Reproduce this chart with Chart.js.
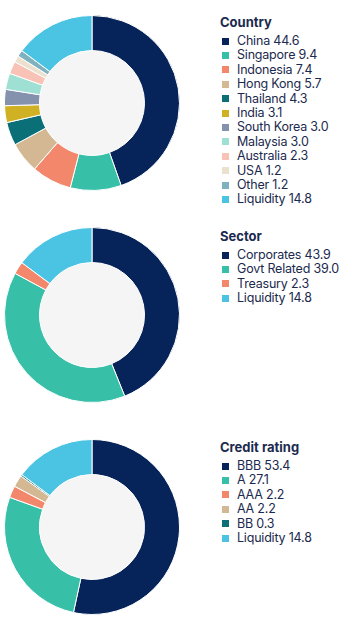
<!DOCTYPE html>
<html>
<head>
<meta charset="utf-8">
<script src="https://cdn.jsdelivr.net/npm/chart.js@4/dist/chart.umd.min.js"></script>
<style>
  body { margin: 0; background: #fff; font-family: "Inter", "Liberation Sans", sans-serif; }
  .wrap { position: relative; width: 349px; height: 626px; }
  .pie { position: absolute; left: 4px; width: 176px; height: 176px; }
  .legend { position: absolute; left: 220px; color: #1b2a4e; }
  .legend h3 { margin: 0 0 4px 0; font-size: 13px; font-weight: 700; line-height: 16px; }
  .legend ul { list-style: none; margin: 0; padding: 0; }
  .legend li { font-size: 12.5px; line-height: 14.4px; white-space: nowrap; letter-spacing: -0.2px; }
  .legend li span { display: inline-block; width: 7px; height: 7px; margin: 0 8px 1px 2px; vertical-align: middle; }
</style>
</head>
<body>
<div class="wrap">
  <div class="pie" style="top:15px"><canvas id="countryPie"></canvas></div>
  <div class="legend" id="countryLegend" style="top:14px"></div>

  <div class="pie" style="top:227px"><canvas id="sectorPie"></canvas></div>
  <div class="legend" id="sectorLegend" style="top:228px"></div>

  <div class="pie" style="top:439px"><canvas id="ratingPie"></canvas></div>
  <div class="legend" id="ratingLegend" style="top:439px"></div>
</div>
<script>
const countryLabels = ["China", "Singapore", "Indonesia", "Hong Kong", "Thailand", "India", "South Korea", "Malaysia", "Australia", "USA", "Other", "Liquidity"];
const countryValues = [44.6, 9.4, 7.4, 5.7, 4.3, 3.1, 3.0, 3.0, 2.3, 1.2, 1.2, 14.8];
const countryColors = ["#06245a", "#37bfa8", "#f2876b", "#d4b894", "#0b6f78", "#d1b124", "#8592ad", "#9fe0d4", "#f8c2b6", "#ece0cf", "#80b1bf", "#4bc3e3"];

const sectorLabels = ["Corporates", "Govt Related", "Treasury", "Liquidity"];
const sectorValues = [43.9, 39.0, 2.3, 14.8];
const sectorColors = ["#06245a", "#37bfa8", "#f2876b", "#4bc3e3"];

const ratingLabels = ["BBB", "A", "AAA", "AA", "BB", "Liquidity"];
const ratingValues = [53.4, 27.1, 2.2, 2.2, 0.3, 14.8];
const ratingColors = ["#06245a", "#37bfa8", "#f2876b", "#d4b894", "#0b6f78", "#4bc3e3"];

// grey disc inside the ring
const holeFill = {
    id: "holeFill",
    beforeDatasetsDraw(chart) {
        const arc = chart.getDatasetMeta(0).data[0];
        if (!arc) return;
        const { ctx } = chart;
        ctx.save();
        ctx.fillStyle = "#f5f5f5";
        ctx.beginPath();
        ctx.arc(arc.x, arc.y, arc.innerRadius, 0, Math.PI * 2);
        ctx.fill();
        ctx.restore();
    }
};

function createDonut(canvasId, labels, data, colors) {
    const ctx = document.getElementById(canvasId).getContext('2d');
    return new Chart(ctx, {
        type: 'doughnut',
        data: {
            labels: labels,
            datasets: [{
                data: data,
                backgroundColor: colors,
                borderColor: "#ffffff",
                borderWidth: 1
            }]
        },
        options: {
            responsive: true,
            maintainAspectRatio: false,
            animation: false,
            cutout: '60%',
            plugins: {
                legend: { display: false },
                tooltip: { enabled: false }
            }
        },
        plugins: [holeFill]
    });
}

function buildLegend(elId, title, labels, data, colors) {
    const items = labels.map((l, i) =>
        `<li><span style="background:${colors[i]}"></span>${l} ${data[i].toFixed(1)}</li>`).join("");
    document.getElementById(elId).innerHTML = `<h3>${title}</h3><ul>${items}</ul>`;
}

createDonut('countryPie', countryLabels, countryValues, countryColors);
createDonut('sectorPie', sectorLabels, sectorValues, sectorColors);
createDonut('ratingPie', ratingLabels, ratingValues, ratingColors);

buildLegend('countryLegend', "Country", countryLabels, countryValues, countryColors);
buildLegend('sectorLegend', "Sector", sectorLabels, sectorValues, sectorColors);
buildLegend('ratingLegend', "Credit rating", ratingLabels, ratingValues, ratingColors);
</script>
</body>
</html>
